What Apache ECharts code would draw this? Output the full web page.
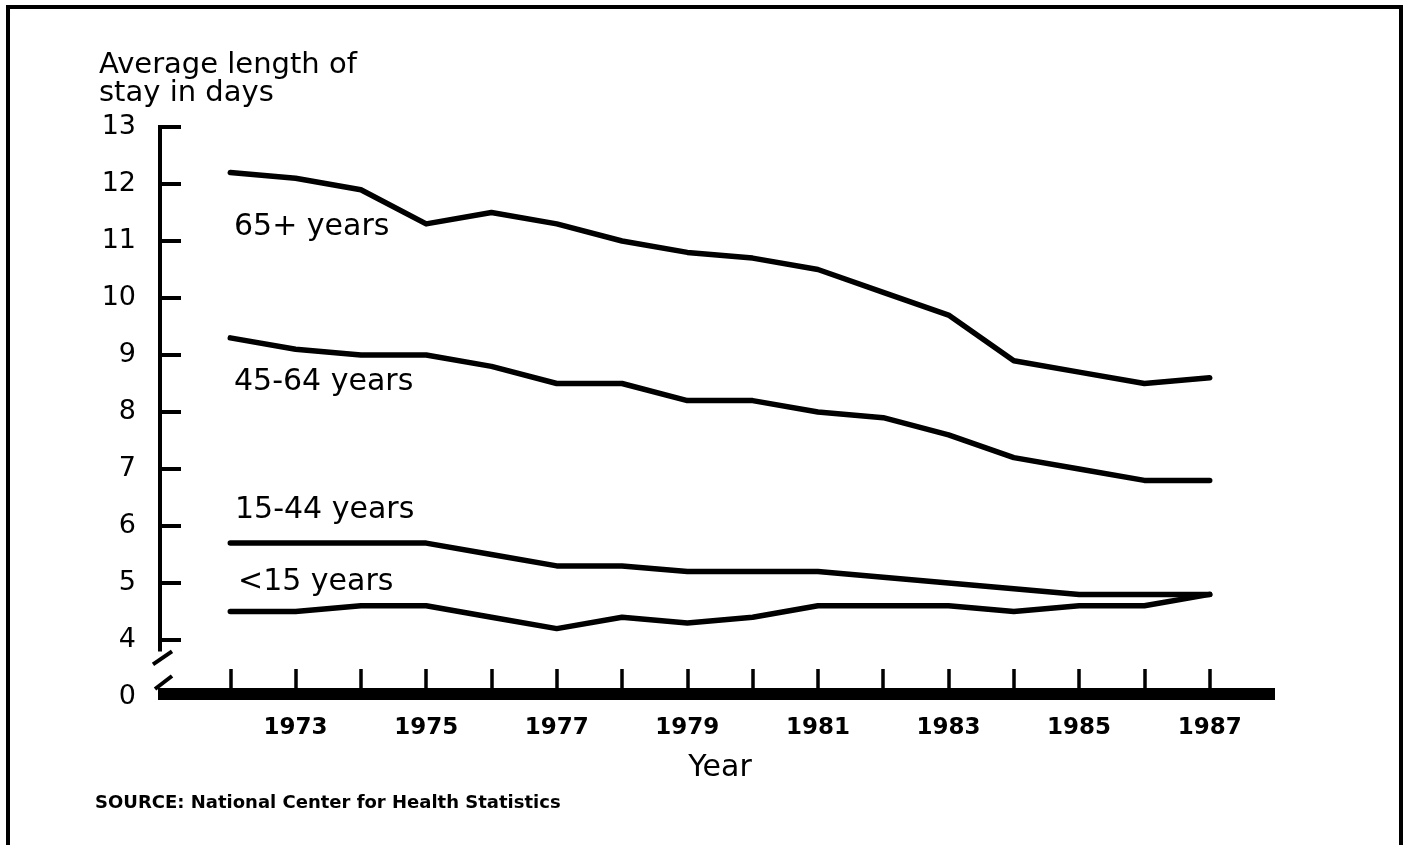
<!DOCTYPE html>
<html>
<head>
<meta charset="utf-8">
<script src="https://cdn.jsdelivr.net/npm/echarts@6/dist/echarts.min.js"></script>
<style>
  html, body { margin: 0; padding: 0; background: #fff; }
  #chart { width: 1408px; height: 845px; }
</style>
</head>
<body>
<div id="chart"></div>
<script>
// data (average length of stay, days)
const years = [1972, 1973, 1974, 1975, 1976, 1977, 1978, 1979, 1980, 1981, 1982, 1983, 1984, 1985, 1986, 1987]
const age65plus = [12.2, 12.1, 11.9, 11.3, 11.5, 11.3, 11.0, 10.8, 10.7, 10.5, 10.1, 9.7, 8.9, 8.7, 8.5, 8.6]
const age45to64 = [9.3, 9.1, 9.0, 9.0, 8.8, 8.5, 8.5, 8.2, 8.2, 8.0, 7.9, 7.6, 7.2, 7.0, 6.8, 6.8]
const age15to44 = [5.7, 5.7, 5.7, 5.7, 5.5, 5.3, 5.3, 5.2, 5.2, 5.2, 5.1, 5.0, 4.9, 4.8, 4.8, 4.8]
const ageUnder15 = [4.5, 4.5, 4.6, 4.6, 4.4, 4.2, 4.4, 4.3, 4.4, 4.6, 4.6, 4.6, 4.5, 4.6, 4.6, 4.8]
const seriesNames = ['65+ years', '45-64 years', '15-44 years', '<15 years']
const yTicks = [4, 5, 6, 7, 8, 9, 10, 11, 12, 13]

const font = '"DejaVu Sans", "Liberation Sans", Arial, sans-serif'
const ink = '#000'

// one empty slot on each side so the axis runs past 1972 and 1987
const categories = [''].concat(years.map(String), [''])
const pad = (arr) => [null].concat(arr, [null])

const chart = echarts.init(document.getElementById('chart'))

function lineSeries (name, values) {
  return {
    name: name,
    type: 'line',
    data: pad(values),
    symbol: 'none',
    smooth: false,
    lineStyle: { color: ink, width: 5.5, cap: 'round', join: 'round' },
    z: 3
  }
}

const option = {
  backgroundColor: '#fff',
  animation: false,
  title: {
    text: 'Average length of\nstay in days',
    left: 94,
    top: 46,
    textStyle: { fontFamily: font, fontSize: 29, fontWeight: 'normal', color: ink, lineHeight: 28 }
  },
  grid: { left: 165, right: 133, top: 127, bottom: 148 },
  xAxis: {
    type: 'category',
    data: categories,
    boundaryGap: false,
    offset: -3,
    name: 'Year',
    nameLocation: 'middle',
    nameGap: 59,
    nameTextStyle: { fontFamily: font, fontSize: 30, color: ink },
    axisLine: { show: true, lineStyle: { color: ink, width: 12, cap: 'butt' } },
    axisTick: {
      show: true,
      inside: true,
      length: 25,
      lineStyle: { color: ink, width: 3.5 },
      interval: (i) => i > 0 && i < categories.length - 1
    },
    axisLabel: {
      fontFamily: font,
      fontSize: 23,
      fontWeight: 'bold',
      color: ink,
      margin: 23,
      interval: (i, v) => v !== '' && Number(v) % 2 === 1
    },
    splitLine: { show: false }
  },
  yAxis: {
    type: 'value',
    min: 3,
    max: 13,
    interval: 1,
    offset: 5,
    axisLine: { show: false },
    axisTick: { show: true, inside: true, length: 21, lineStyle: { color: ink, width: 4 } },
    axisLabel: {
      fontFamily: font,
      fontSize: 27,
      color: ink,
      margin: 24,
      formatter: (v) => (v === 3 ? '0' : (yTicks.indexOf(v) >= 0 ? String(v) : ''))
    },
    splitLine: { show: false }
  },
  series: [
    lineSeries(seriesNames[0], age65plus),
    lineSeries(seriesNames[1], age45to64),
    lineSeries(seriesNames[2], age15to44),
    lineSeries(seriesNames[3], ageUnder15)
  ]
}

chart.setOption(option)

// axis line with a break, series labels, frame, source note
const axisX = chart.convertToPixel({ xAxisIndex: 0 }, 0) - 5
const yTop = chart.convertToPixel({ yAxisIndex: 0 }, 13)
const yBreak = chart.convertToPixel({ yAxisIndex: 0 }, 3.8)
const yBase = chart.convertToPixel({ yAxisIndex: 0 }, 3) - 3

function label (text, x, y) {
  return {
    type: 'text',
    x: x,
    y: y,
    style: { text: text, fill: ink, font: '30px ' + font, verticalAlign: 'middle' }
  }
}

chart.setOption({
  graphic: [
    {
      type: 'line',
      shape: { x1: axisX, y1: yTop - 2, x2: axisX, y2: yBreak },
      style: { stroke: ink, lineWidth: 4 }
    },
    {
      type: 'line',
      shape: { x1: axisX - 7, y1: yBreak + 13, x2: axisX + 12, y2: yBreak },
      style: { stroke: ink, lineWidth: 4 }
    },
    {
      type: 'line',
      shape: { x1: axisX - 5, y1: yBase - 5, x2: axisX + 12, y2: yBase - 18 },
      style: { stroke: ink, lineWidth: 4 }
    },
    {
      type: 'line',
      shape: { x1: axisX, y1: yBase - 6, x2: axisX, y2: yBase + 6 },
      style: { stroke: ink, lineWidth: 4 }
    },
    {
      type: 'rect',
      shape: { x: axisX, y: yBase - 6, width: 8, height: 12 },
      style: { fill: ink }
    },
    label(seriesNames[0], 234, 227),
    label(seriesNames[1], 234, 382),
    label(seriesNames[2], 235, 510),
    label(seriesNames[3], 238, 582),
    {
      type: 'text',
      x: 95,
      y: 803,
      style: {
        text: 'SOURCE: National Center for Health Statistics',
        fill: ink,
        font: 'bold 18px ' + font,
        verticalAlign: 'middle'
      }
    },
    {
      type: 'polyline',
      shape: { points: [[8, 850], [8, 7], [1401, 7], [1401, 850]] },
      style: { stroke: ink, lineWidth: 4, fill: null }
    }
  ]
})
</script>
</body>
</html>
